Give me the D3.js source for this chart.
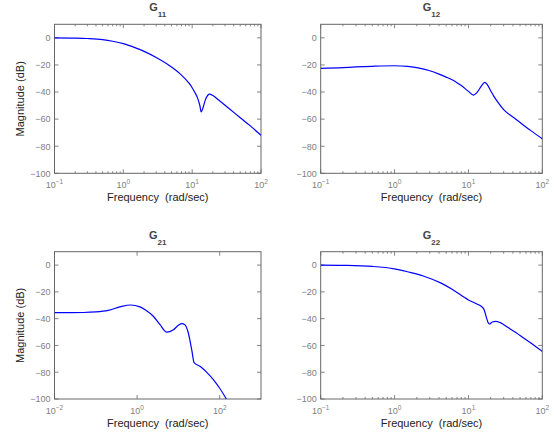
<!DOCTYPE html>
<html><head><meta charset="utf-8">
<script src="https://cdn.jsdelivr.net/npm/d3@7"></script>
<style>body{margin:0;background:#fff;}svg{display:block;font-family:"Liberation Sans",Arial,Helvetica,sans-serif;}</style>
</head><body>
<svg id="c" width="554" height="435"></svg>
<script>
// ---- data (frequency in rad/sec, magnitude in dB) ----
const g11Freq = [0.1,0.2,0.3,0.5,0.7,1,1.5,2,3,5,7,8,9,10,11,12,13,13.5,14.3,15.5,17,17.8,20,25,35,50,70,100];
const g11Mag  = [0,-0.2,-0.5,-1.3,-2.5,-4.3,-7.4,-10,-14.5,-21.5,-27.5,-30.5,-33.5,-36.8,-40.6,-44.5,-50.5,-54.7,-52,-46,-42.2,-41.6,-42.6,-46.5,-52.5,-59,-65,-72];

const g12Freq = [0.1,0.2,0.3,0.5,1,1.5,2,3,4,5,6,7,8,10,11.7,13,15,16.6,18,20,22,25,30,40,50,70,100];
const g12Mag  = [-22.5,-22,-21.5,-21,-20.6,-21,-22,-24.3,-26.8,-29,-31,-33.1,-35.2,-39.5,-42.3,-40.5,-35.5,-32.8,-34.5,-39,-43,-47.5,-53,-58.5,-62.5,-68.5,-74.5];

const g21Freq = [0.01,0.05,0.1,0.2,0.4,0.7,1.17,1.6,2.47,3.6,5.2,7.6,10,12,14.4,17.4,21,24,34,50,71,100,145];
const g21Mag  = [-35.5,-35.4,-35,-33.8,-31,-29.8,-31.2,-33.5,-38.2,-44.5,-50,-48.2,-45,-43.7,-44.5,-50.7,-63.2,-72.8,-75.8,-80.5,-85.7,-92,-100];

const g22Freq = [0.1,0.2,0.5,1,1.5,2.5,4.2,6,10,13,14.7,16.2,17.5,18.5,19.3,21,23.5,27,34,50,70,100];
const g22Mag  = [0,-0.2,-1,-2.8,-5,-8.3,-13.3,-18,-26,-29,-30.5,-33,-39,-43,-44,-42.5,-42,-43,-46.5,-52.5,-58.2,-64.5];

const yTicks = [0,-20,-40,-60,-80,-100];
const xLabel = "Frequency  (rad/sec)";
const yLabel = "Magnitude (dB)";

const panels = [
  {sub:"11", f:g11Freq, m:g11Mag, x0:54.5, x1:261, y0:24.3, y1:173.3, dom:[0.1,100], exps:[-1,0,1,2], ylab:true},
  {sub:"12", f:g12Freq, m:g12Mag, x0:320.7, x1:542.3, y0:24.3, y1:173.3, dom:[0.1,100], exps:[-1,0,1,2], ylab:false},
  {sub:"21", f:g21Freq, m:g21Mag, x0:54.5, x1:261, y0:251.7, y1:399, dom:[0.01,1000], exps:[-2,0,2], ylab:true, nominor:true},
  {sub:"22", f:g22Freq, m:g22Mag, x0:320.7, x1:542.3, y0:251.7, y1:399, dom:[0.1,100], exps:[-1,0,1,2], ylab:false}
];

const svg = d3.select("#c");
const axisCol = "#666", tickTxt = "#808080";

panels.forEach((p,i)=>{
  const x = d3.scaleLog().domain(p.dom).range([p.x0,p.x1]);
  const y = d3.scaleLinear().domain([-100,10]).range([p.y1,p.y0]);
  const g = svg.append("g");
  const cid = "clip"+i;
  svg.append("clipPath").attr("id",cid).append("rect")
    .attr("x",p.x0).attr("y",p.y0).attr("width",p.x1-p.x0).attr("height",p.y1-p.y0);

  if(!p.nominor){
    const minors=[];
    for(let e=Math.log10(p.dom[0]); e<Math.log10(p.dom[1])-1e-9; e++){
      for(let k=2;k<=9;k++) minors.push(k*Math.pow(10,e));
    }
    minors.forEach(v=>{
      g.append("line").attr("x1",x(v)).attr("x2",x(v)).attr("y1",p.y1).attr("y2",p.y1-2).attr("stroke",axisCol).attr("stroke-width",0.8);
      g.append("line").attr("x1",x(v)).attr("x2",x(v)).attr("y1",p.y0).attr("y2",p.y0+2).attr("stroke",axisCol).attr("stroke-width",0.8);
    });
  }
  p.exps.forEach(e=>{
    const v=Math.pow(10,e), xx=x(v);
    g.append("line").attr("x1",xx).attr("x2",xx).attr("y1",p.y1).attr("y2",p.y1-4).attr("stroke",axisCol).attr("stroke-width",0.8);
    g.append("line").attr("x1",xx).attr("x2",xx).attr("y1",p.y0).attr("y2",p.y0+4).attr("stroke",axisCol).attr("stroke-width",0.8);
    const t=g.append("text").attr("x",xx).attr("y",p.y1+15).attr("text-anchor","middle").attr("fill",tickTxt).attr("font-size",9);
    t.append("tspan").text("10");
    t.append("tspan").attr("dy",-4.5).attr("font-size",6.5).text(e<0?"\u2212"+(-e):String(e));
  });
  yTicks.forEach(v=>{
    const yy=y(v);
    g.append("line").attr("x1",p.x0).attr("x2",p.x0+4).attr("y1",yy).attr("y2",yy).attr("stroke",axisCol).attr("stroke-width",0.8);
    g.append("line").attr("x1",p.x1).attr("x2",p.x1-4).attr("y1",yy).attr("y2",yy).attr("stroke",axisCol).attr("stroke-width",0.8);
    g.append("text").attr("x",p.x0-4).attr("y",yy+3.3).attr("text-anchor","end").attr("fill",tickTxt).attr("font-size",9)
      .text(v<0?"\u2212"+(-v):String(v));
  });
  g.append("rect").attr("x",p.x0).attr("y",p.y0).attr("width",p.x1-p.x0).attr("height",p.y1-p.y0)
    .attr("fill","none").attr("stroke",axisCol).attr("stroke-width",1);

  const data = p.f.map((f,j)=>[f,p.m[j]]);
  const line = d3.line().x(d=>x(d[0])).y(d=>y(d[1])).curve(d3.curveMonotoneX);
  g.append("path").attr("d",line(data)).attr("fill","none").attr("stroke","#0000ff").attr("stroke-width",1.2)
    .attr("clip-path","url(#"+cid+")");

  const cx=(p.x0+p.x1)/2;
  const tt=g.append("text").attr("x",cx).attr("y",p.y0-13).attr("text-anchor","middle").attr("font-weight","bold").attr("fill","#444").attr("font-size",11);
  tt.append("tspan").text("G");
  tt.append("tspan").attr("dy",6).attr("font-size",8).text(p.sub);

  g.append("text").attr("x",cx).attr("y",p.y1+27.5).attr("text-anchor","middle").attr("fill","#222").attr("font-size",11)
    .style("white-space","pre").text(xLabel);
  if(p.ylab){
    const cy=(p.y0+p.y1)/2;
    g.append("text").attr("transform","translate(24,"+cy+") rotate(-90)").attr("text-anchor","middle").attr("fill","#222").attr("font-size",11).text(yLabel);
  }
});
</script>
</body></html>
